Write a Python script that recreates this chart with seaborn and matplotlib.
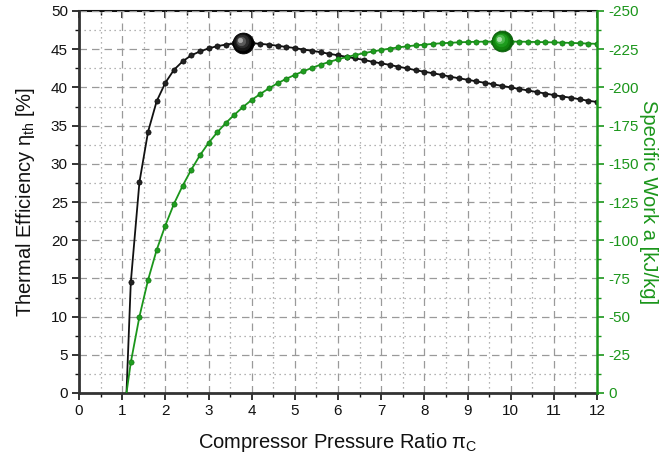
import numpy as np
import pandas as pd
import matplotlib
matplotlib.use("Agg")
import matplotlib.pyplot as plt
import matplotlib.transforms as mtransforms
from matplotlib.ticker import MultipleLocator
import seaborn as sns

# ---------------- data ----------------
pressure_ratio = [1.1, 1.2, 1.4, 1.6, 1.8, 2.0, 2.2, 2.4, 2.6, 2.8, 3.0,
                  3.2, 3.4, 3.6, 3.8, 4.0, 4.2, 4.4, 4.6, 4.8, 5.0,
                  5.2, 5.4, 5.6, 5.8, 6.0, 6.2, 6.4, 6.6, 6.8, 7.0,
                  7.2, 7.4, 7.6, 7.8, 8.0, 8.2, 8.4, 8.6, 8.8, 9.0,
                  9.2, 9.4, 9.6, 9.8, 10.0, 10.2, 10.4, 10.6, 10.8, 11.0,
                  11.2, 11.4, 11.6, 11.8, 12.0]
efficiency = [0.0, 14.5, 27.6, 34.2, 38.2, 40.6, 42.3, 43.4, 44.2, 44.7, 45.1,
              45.4, 45.6, 45.75, 45.85, 45.8, 45.7, 45.6, 45.45, 45.3, 45.15,
              44.95, 44.8, 44.6, 44.4, 44.2, 44.0, 43.8, 43.6, 43.35, 43.15,
              42.95, 42.7, 42.5, 42.25, 42.05, 41.85, 41.65, 41.4, 41.2, 41.0,
              40.8, 40.6, 40.4, 40.2, 40.0, 39.8, 39.6, 39.4, 39.2, 39.0,
              38.8, 38.65, 38.45, 38.25, 38.1]
specific_work = [0.0, -20.0, -50.0, -74.0, -93.7, -109.6, -123.8, -135.6, -146.1, -155.5, -163.6,
                 -170.5, -176.7, -182.1, -187.2, -191.8, -195.7, -199.4, -202.7, -205.6, -208.2,
                 -210.6, -212.8, -214.9, -216.7, -218.4, -219.9, -221.2, -222.4, -223.5, -224.5,
                 -225.4, -226.2, -226.9, -227.5, -228.0, -228.5, -228.9, -229.2, -229.5, -229.7,
                 -229.85, -229.95, -230.0, -230.05, -230.0, -229.95, -229.85, -229.7, -229.6, -229.45,
                 -229.3, -229.1, -228.9, -228.7, -228.5]
opt_eff_x = [3.8]
opt_eff_y = [45.85]
opt_work_x = [9.8]
opt_work_y = [-230.05]

x_label = r"Compressor Pressure Ratio π$_\mathregular{C}$"
y_label = r"Thermal Efficiency η$_\mathregular{th}$ [%]"
y2_label = "Specific Work a [kJ/kg]"

df = pd.DataFrame({"pr": pressure_ratio, "eta": efficiency, "w": specific_work})
dfm = df.iloc[1:]

# ---------------- style ----------------
sns.set_theme(style="white")
plt.rcParams["font.family"] = ["Liberation Sans", "DejaVu Sans"]
plt.rcParams["mathtext.default"] = "regular"
plt.rcParams["axes.unicode_minus"] = False

GREEN = "#1b961b"
BLACK = "#111111"
GRID = "#9a9a9a"

fig = plt.figure(figsize=(6.71, 4.62), dpi=100)
ax = fig.add_axes([79 / 671, 1 - 393 / 462, (597 - 79) / 671, (393 - 11) / 462])
ax2 = ax.twinx()

# lines
sns.lineplot(data=df, x="pr", y="eta", ax=ax, color=BLACK, lw=1.3, zorder=3)
sns.lineplot(data=dfm, x="pr", y="eta", ax=ax, color="#222222", lw=0, marker="o",
             markersize=3.8, markeredgecolor="#000000", markeredgewidth=0.4, zorder=4)
sns.lineplot(data=df, x="pr", y="w", ax=ax2, color=GREEN, lw=1.3, zorder=3)
sns.lineplot(data=dfm, x="pr", y="w", ax=ax2, color="#1f9e1f", lw=0, marker="o",
             markersize=3.8, markeredgecolor="#0d6a0d", markeredgewidth=0.4, zorder=4)


def sphere(axis, xs, ys, shades, base):
    sizes = [15, 12, 9, 6, 3]
    for i, (s, c) in enumerate(zip(sizes, shades)):
        off = mtransforms.ScaledTranslation(-0.5 * i / 72, 0.5 * i / 72, fig.dpi_scale_trans)
        axis.plot(xs, ys, "o", ms=s, color=c, mec=c if i else base, mew=0.6,
                  transform=axis.transData + off, zorder=6 + i, clip_on=False)


sphere(ax, opt_eff_x, opt_eff_y, ["#000000", "#161616", "#2e2e2e", "#5a5a5a", "#a8a8a8"], "#000000")
sphere(ax2, opt_work_x, opt_work_y, ["#0a6a0a", "#12840f", "#1d9c1d", "#4cb84c", "#a8e0a8"], "#0a5e0a")

# limits & ticks
ax.set_xlim(0, 12)
ax.set_ylim(0, 50)
ax2.set_ylim(0, -250)
ax.xaxis.set_major_locator(MultipleLocator(1))
ax.xaxis.set_minor_locator(MultipleLocator(0.5))
ax.yaxis.set_major_locator(MultipleLocator(5))
ax.yaxis.set_minor_locator(MultipleLocator(2.5))
ax2.yaxis.set_major_locator(MultipleLocator(25))
ax2.yaxis.set_minor_locator(MultipleLocator(12.5))

ax.grid(which="major", color=GRID, lw=0.9, ls=(0, (6, 4)))
ax.grid(which="minor", color=GRID, lw=0.9, ls=(0, (1, 3)))
ax.set_axisbelow(True)

ax.tick_params(axis="both", which="major", direction="out", length=5, width=1.2,
               labelsize=11, colors=BLACK, pad=3, left=True, bottom=True)
ax.tick_params(axis="both", which="minor", direction="out", length=3, width=1.0,
               left=True, bottom=True, colors=BLACK)
ax2.tick_params(axis="y", which="major", direction="out", length=5, width=1.2,
                labelsize=11, colors=GREEN, pad=3, right=True)
ax2.tick_params(axis="y", which="minor", direction="out", length=3, width=1.0,
                colors=GREEN, right=True)

top = ax.secondary_xaxis("top")
top.xaxis.set_major_locator(MultipleLocator(1))
top.xaxis.set_minor_locator(MultipleLocator(0.5))
top.tick_params(which="major", direction="in", length=5, width=1.2, labeltop=False, colors=BLACK)
top.tick_params(which="minor", direction="in", length=3, width=1.0, colors=BLACK)
top.spines["top"].set_linewidth(1.5)
top.spines["top"].set_color(BLACK)

for side in ["left", "bottom"]:
    ax.spines[side].set_linewidth(2.0)
    ax.spines[side].set_color("#333333")
ax.spines["top"].set_visible(False)
ax.spines["right"].set_visible(False)
for side in ["left", "bottom", "top"]:
    ax2.spines[side].set_visible(False)
ax2.spines["right"].set_color(GREEN)
ax2.spines["right"].set_linewidth(1.8)

ax.set_xlabel(x_label, fontsize=14.5, color=BLACK, labelpad=9)
ax.set_ylabel(y_label, fontsize=14.5, color=BLACK, labelpad=10)
ax2.set_ylabel(y2_label, fontsize=14.5, color=GREEN, rotation=270, labelpad=14)

fig.savefig("out.png", dpi=100)
